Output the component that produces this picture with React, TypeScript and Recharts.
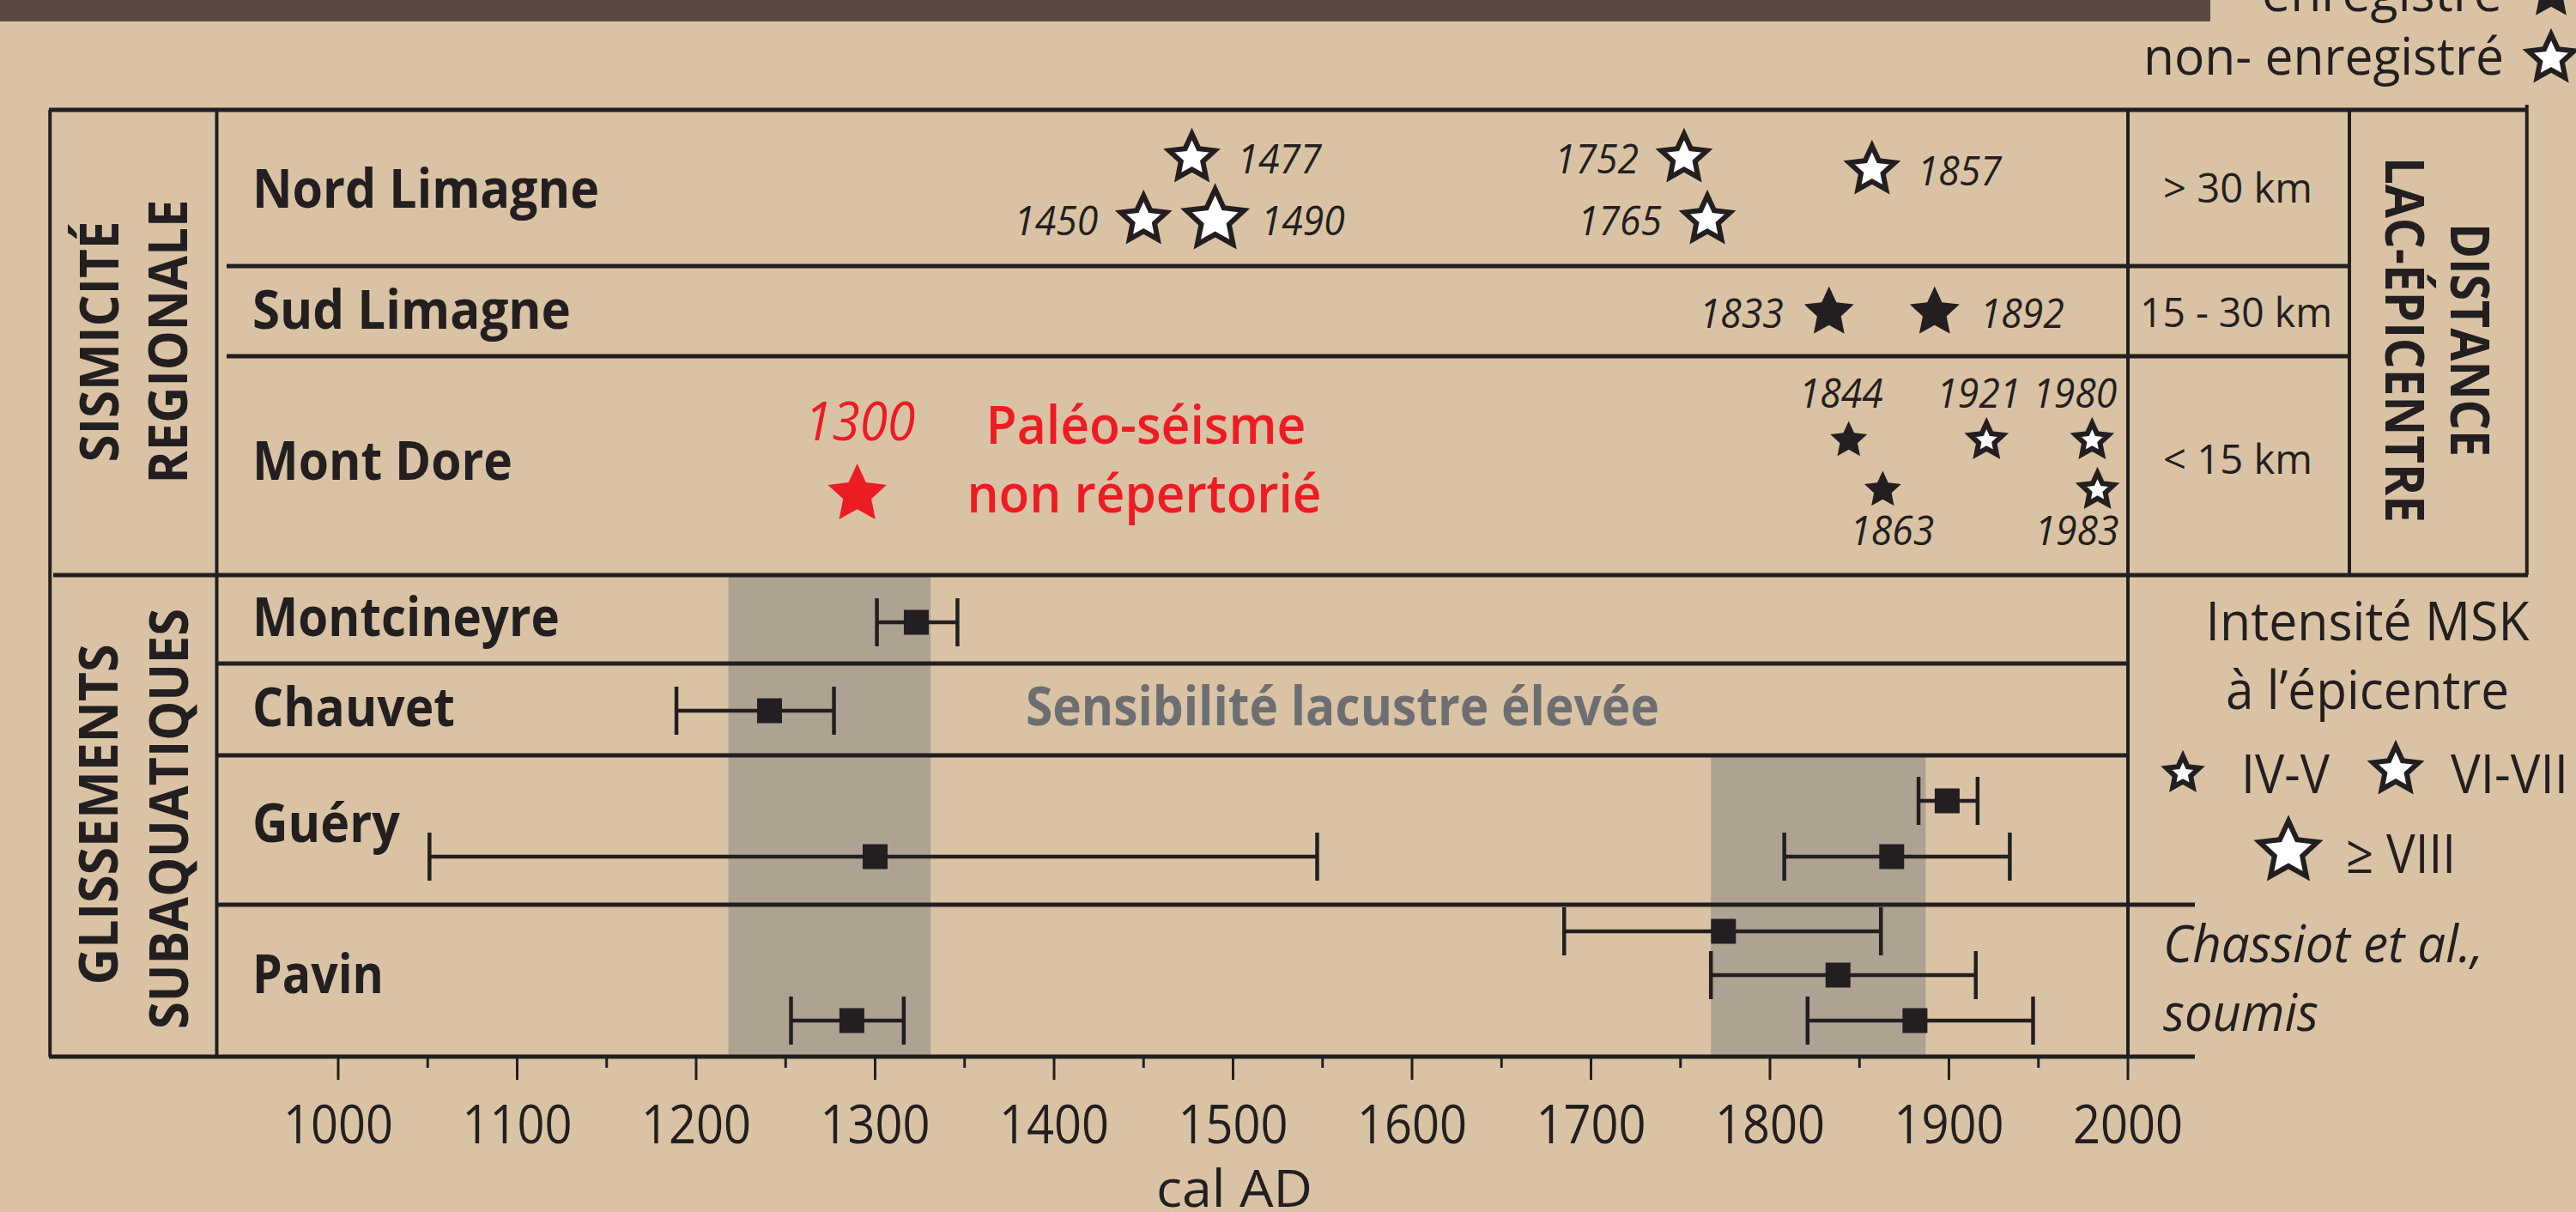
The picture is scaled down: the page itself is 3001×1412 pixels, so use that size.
import React from 'react';
import {
  ComposedChart,
  XAxis,
  YAxis,
  Scatter,
  ErrorBar,
  ReferenceLine,
  ReferenceArea,
  Customized,
} from 'recharts';

// ---------------- data ----------------
const tickYears = [
  1000, 1050, 1100, 1150, 1200, 1250, 1300, 1350, 1400, 1450, 1500,
  1550, 1600, 1650, 1700, 1750, 1800, 1850, 1900, 1950, 2000,
];

const seismicRegions = ['Nord Limagne', 'Sud Limagne', 'Mont Dore'];
const lakes = ['Montcineyre', 'Chauvet', 'Guéry', 'Pavin'];
const distanceClasses = ['> 30 km', '15 - 30 km', '< 15 km'];
const mskClasses = ['IV-V', 'VI-VII', 'VIII'];
const mskLabels = ['IV-V', 'VI-VII', '≥ VIII'];

const nordLimagneQuakes = [
  { year: 1450, msk: 'VI-VII', recorded: false },
  { year: 1477, msk: 'VI-VII', recorded: false },
  { year: 1490, msk: 'VIII', recorded: false },
  { year: 1752, msk: 'VI-VII', recorded: false },
  { year: 1765, msk: 'VI-VII', recorded: false },
  { year: 1857, msk: 'VI-VII', recorded: false },
];
const sudLimagneQuakes = [
  { year: 1833, msk: 'VI-VII', recorded: true },
  { year: 1892, msk: 'VI-VII', recorded: true },
];
const montDoreQuakes = [
  { year: 1844, msk: 'IV-V', recorded: true },
  { year: 1863, msk: 'IV-V', recorded: true },
  { year: 1921, msk: 'IV-V', recorded: false },
  { year: 1980, msk: 'IV-V', recorded: false },
  { year: 1983, msk: 'IV-V', recorded: false },
];
const paleoSeism = [{ year: 1290, label: '1300' }];

const montcineyreSlides = [{ age: 1323, min: 1301, max: 1346 }];
const chauvetSlides = [{ age: 1241, min: 1189, max: 1277 }];
const guerySlides = [
  { age: 1300, min: 1051, max: 1547 },
  { age: 1899, min: 1883, max: 1916 },
  { age: 1868, min: 1808, max: 1934 },
];
const pavinSlides = [
  { age: 1287, min: 1253, max: 1316 },
  { age: 1774, min: 1685, max: 1862 },
  { age: 1838, min: 1767, max: 1915 },
  { age: 1881, min: 1821, max: 1947 },
];

const sensitivePeriods = [
  { from: 1218, to: 1331, fromRow: 'Montcineyre' },
  { from: 1767, to: 1887, fromRow: 'Guéry' },
];

// ---------------- layout & style ----------------
const W = 3001;
const H = 1412;
const C_BG = '#DAC3A4';
const C_BAND = '#AEA293';
const C_INK = '#231F20';
const C_RED = '#ED1C24';
const C_GRAY = '#6D6E71';
const C_TITLE = '#594A41';
const FONT = "'Open Sans', 'Noto Sans', sans-serif";

const PLOT_L = 57;
const PLOT_R = 2945;
const PLOT_T = 128;
const PLOT_B = 1231;
const PX_1000 = 394;
const PX_PER_YEAR = 2.085;
const pxToYear = (px: number) => 1000 + (px - PX_1000) / PX_PER_YEAR;
const X_DOMAIN = [pxToYear(PLOT_L), pxToYear(PLOT_R)];
const Y_END = PLOT_B - PLOT_T;

const X_DIV = pxToYear(252.5);
const X_END = 2000;
const X_DIST = pxToYear(2737);
const X_EXT = pxToYear(2557);
const X_INNER = pxToYear(264);
const X_LEFT_IN = pxToYear(62);

const ROW_TOP: Record<string, number> = {
  'Nord Limagne': 0,
  'Sud Limagne': 182,
  'Mont Dore': 287,
  Montcineyre: 542,
  Chauvet: 645,
  'Guéry': 752,
  Pavin: 926,
};

const QUAKE_LANE: Record<number, number> = {
  1450: 128, 1477: 56, 1490: 128, 1752: 56, 1765: 128, 1857: 70,
  1833: 54, 1892: 54,
  1844: 98, 1863: 156, 1921: 98, 1980: 98, 1983: 156,
};
const PALEO_LANE = 161;
const SLIDE_LANE: Record<string, number[]> = {
  Montcineyre: [55],
  Chauvet: [55],
  'Guéry': [118, 53, 118],
  Pavin: [135, 31, 82, 135],
};
const LABEL_SIDE: Record<number, string> = {
  1450: 'left', 1477: 'right', 1490: 'right', 1752: 'left', 1765: 'left', 1857: 'right',
  1833: 'left', 1892: 'right',
  1844: 'above', 1863: 'below', 1921: 'above', 1980: 'aboveEnd', 1983: 'belowEnd',
};
const STAR_R: Record<string, number> = { 'IV-V': 22.5, 'VI-VII': 30.5, VIII: 38 };

// ---------------- helpers ----------------
const starPath = (cx: number, cy: number, R: number, ratio = 0.48) => {
  let d = '';
  for (let i = 0; i < 10; i++) {
    const r = i % 2 === 0 ? R : R * ratio;
    const a = -Math.PI / 2 + (i * Math.PI) / 5;
    d += (i === 0 ? 'M' : 'L') + (cx + r * Math.cos(a)).toFixed(2) + ',' + (cy + r * Math.sin(a)).toFixed(2);
  }
  return d + 'Z';
};

const Star = ({ cx, cy, msk, recorded }: { cx: number; cy: number; msk: string; recorded: boolean }) =>
  recorded ? (
    <path d={starPath(cx, cy, STAR_R[msk])} fill={C_INK} />
  ) : (
    <path
      d={starPath(cx, cy, STAR_R[msk] - 2.5)}
      fill="#FFFFFF"
      stroke={C_INK}
      strokeWidth={6}
      strokeLinejoin="miter"
    />
  );

type TP = {
  x: number;
  y: number;
  children: React.ReactNode;
  size: number;
  weight?: number;
  italic?: boolean;
  anchor?: 'start' | 'middle' | 'end';
  len?: number;
  fill?: string;
  rotate?: number;
};
const T = ({ x, y, children, size, weight = 400, italic = false, anchor = 'start', len, fill = C_INK, rotate = 0 }: TP) => (
  <text
    x={x}
    y={y}
    fontFamily={FONT}
    fontSize={size}
    fontWeight={weight}
    fontStyle={italic ? 'italic' : 'normal'}
    textAnchor={anchor}
    fill={fill}
    textLength={len}
    lengthAdjust="spacingAndGlyphs"
    transform={rotate ? `rotate(${rotate} ${x} ${y})` : undefined}
  >
    {children}
  </text>
);

const QuakeShape = (props: any) => {
  const { cx, cy, payload } = props;
  const side = LABEL_SIDE[payload.year];
  let lx = cx;
  let ly = cy + 18;
  let anchor: 'start' | 'middle' | 'end' = 'middle';
  if (side === 'right') { lx = cx + 53; anchor = 'start'; }
  if (side === 'left') { lx = cx - 53; anchor = 'end'; }
  if (side === 'above') { lx = cx - 9; ly = cy - 38; }
  if (side === 'below') { lx = cx + 11; ly = cy + 64; }
  if (side === 'aboveEnd') { lx = cx + 29; ly = cy - 38; anchor = 'end'; }
  if (side === 'belowEnd') { lx = cx + 25; ly = cy + 64; anchor = 'end'; }
  return (
    <g>
      <Star cx={cx} cy={cy} msk={payload.msk} recorded={payload.recorded} />
      <T x={lx} y={ly} size={48} italic anchor={anchor} len={98}>
        {String(payload.year)}
      </T>
    </g>
  );
};

const PaleoShape = (props: any) => {
  const { cx, cy, payload } = props;
  return (
    <g>
      <path d={starPath(cx, cy, 36)} fill={C_RED} />
      <T x={cx + 3} y={cy - 63} size={62} italic anchor="middle" len={129} fill={C_RED}>
        {payload.label}
      </T>
    </g>
  );
};

const SquareShape = (props: any) => {
  const { cx, cy } = props;
  return <rect x={cx - 14.5} y={cy - 14.5} width={29} height={29} fill={C_INK} />;
};

const XTick = (props: any) => {
  const { x, y, payload } = props;
  const v = payload.value as number;
  const major = v % 100 === 0;
  return (
    <g>
      <line x1={x} x2={x} y1={y} y2={y + (major ? 27 : 13)} stroke={C_INK} strokeWidth={3} />
      {major && (
        <T x={x} y={y + 101} size={63} anchor="middle" len={128}>
          {String(v)}
        </T>
      )}
    </g>
  );
};

// ---------------- derived series ----------------
const quakeData = [
  ...nordLimagneQuakes.map((q) => ({ ...q, region: 'Nord Limagne' })),
  ...sudLimagneQuakes.map((q) => ({ ...q, region: 'Sud Limagne' })),
  ...montDoreQuakes.map((q) => ({ ...q, region: 'Mont Dore' })),
].map((q) => ({ ...q, x: q.year, y: ROW_TOP[q.region] + QUAKE_LANE[q.year] }));

const paleoData = paleoSeism.map((p) => ({ ...p, x: p.year, y: ROW_TOP['Mont Dore'] + PALEO_LANE }));

const slideSets: Record<string, { age: number; min: number; max: number }[]> = {
  Montcineyre: montcineyreSlides,
  Chauvet: chauvetSlides,
  'Guéry': guerySlides,
  Pavin: pavinSlides,
};
const slideData = lakes.flatMap((lake) =>
  slideSets[lake].map((s, i) => ({
    ...s,
    lake,
    x: s.age,
    y: ROW_TOP[lake] + SLIDE_LANE[lake][i],
    err: [s.age - s.min, s.max - s.age],
  }))
);

// ---------------- table frame ----------------
const H_LINES: { x1: number; x2: number; y: number }[] = [
  { x1: X_DOMAIN[0], x2: X_DOMAIN[1], y: 0 },
  { x1: X_INNER, x2: X_DIST, y: ROW_TOP['Sud Limagne'] },
  { x1: X_INNER, x2: X_DIST, y: ROW_TOP['Mont Dore'] },
  { x1: X_LEFT_IN, x2: X_DOMAIN[1], y: ROW_TOP.Montcineyre },
  { x1: X_DIV, x2: X_END, y: ROW_TOP.Chauvet },
  { x1: X_DIV, x2: X_END, y: ROW_TOP['Guéry'] },
  { x1: X_DIV, x2: X_EXT, y: ROW_TOP.Pavin },
  { x1: X_DOMAIN[0], x2: X_EXT, y: Y_END },
];
const V_LINES: { x: number; y1: number; y2: number }[] = [
  { x: X_DOMAIN[0] + 0.6, y1: 0, y2: Y_END },
  { x: X_DIV, y1: 0, y2: Y_END },
  { x: X_END, y1: 0, y2: Y_END },
  { x: X_DIST, y1: 0, y2: ROW_TOP.Montcineyre },
  { x: X_DOMAIN[1] - 0.6, y1: -6, y2: ROW_TOP.Montcineyre },
];

// ---------------- static text layer ----------------
const rowLabelBaseline: Record<string, number> = {
  'Nord Limagne': 242,
  'Sud Limagne': 383,
  'Mont Dore': 559,
  Montcineyre: 741,
  Chauvet: 846,
  'Guéry': 981,
  Pavin: 1157,
};
const rowLabelLen: Record<string, number> = {
  'Nord Limagne': 404,
  'Sud Limagne': 371,
  'Mont Dore': 303,
  Montcineyre: 358,
  Chauvet: 236,
  'Guéry': 172,
  Pavin: 153,
};

const StaticLayer = () => (
  <g>
    {/* title bar remnant */}
    <rect x={0} y={0} width={2575} height={25} fill={C_TITLE} />
    {/* recorded / non-recorded legend */}
    <T x={2915} y={13} size={60} anchor="end" len={280}>enregistré</T>
    <Star cx={2972} cy={-7} msk="VI-VII" recorded />
    <T x={2917} y={87} size={60} anchor="end" len={420}>non- enregistré</T>
    <Star cx={2972} cy={68} msk="VI-VII" recorded={false} />

    {/* section titles */}
    <T x={138} y={398} size={63} weight={700} anchor="middle" len={281} rotate={-90}>SISMICITÉ</T>
    <T x={218} y={398} size={63} weight={700} anchor="middle" len={331} rotate={-90}>REGIONALE</T>
    <T x={137} y={949} size={63} weight={700} anchor="middle" len={397} rotate={-90}>GLISSEMENTS</T>
    <T x={219} y={954} size={63} weight={700} anchor="middle" len={490} rotate={-90}>SUBAQUATIQUES</T>
    <T x={2855} y={396} size={63} weight={700} anchor="middle" len={272} rotate={90}>DISTANCE</T>
    <T x={2779} y={396} size={63} weight={700} anchor="middle" len={426} rotate={90}>LAC-ÉPICENTRE</T>

    {/* row labels */}
    {[...seismicRegions, ...lakes].map((r) => (
      <T key={r} x={294} y={rowLabelBaseline[r]} size={62} weight={700} len={rowLabelLen[r]}>
        {r}
      </T>
    ))}

    {/* distance classes */}
    <T x={2607} y={236} size={48} anchor="middle" len={174}>{distanceClasses[0]}</T>
    <T x={2605} y={381} size={48} anchor="middle" len={224}>{distanceClasses[1]}</T>
    <T x={2607} y={552} size={48} anchor="middle" len={174}>{distanceClasses[2]}</T>

    {/* paleo-earthquake annotation */}
    <T x={1335} y={517} size={62} weight={600} anchor="middle" len={373} fill={C_RED}>Paléo-séisme</T>
    <T x={1333} y={597} size={62} weight={600} anchor="middle" len={413} fill={C_RED}>non répertorié</T>

    {/* sensitivity annotation */}
    <T x={1195} y={845} size={62} weight={700} len={738} fill={C_GRAY}>Sensibilité lacustre élevée</T>

    {/* MSK intensity legend */}
    <T x={2758} y={746} size={62} anchor="middle" len={377}>Intensité MSK</T>
    <T x={2758} y={826} size={62} anchor="middle" len={330}>à l’épicentre</T>
    <Star cx={2543} cy={901} msk={mskClasses[0]} recorded={false} />
    <T x={2611} y={924} size={62} len={103}>{mskLabels[0]}</T>
    <Star cx={2791} cy={897} msk={mskClasses[1]} recorded={false} />
    <T x={2855} y={924} size={62} len={137}>{mskLabels[1]}</T>
    <Star cx={2666} cy={992} msk={mskClasses[2]} recorded={false} />
    <T x={2733} y={1017} size={62} len={128}>{mskLabels[2]}</T>

    {/* source */}
    <T x={2520} y={1121} size={60} italic len={373}>Chassiot et al.,</T>
    <T x={2520} y={1201} size={60} italic len={181}>soumis</T>

    {/* axis title */}
    <T x={1438} y={1406} size={60} anchor="middle" len={182}>cal AD</T>
  </g>
);

export default function App() {
  return (
    <div style={{ position: 'fixed', left: 0, top: 0, width: W, height: H, background: C_BG, overflow: 'hidden' }}>
      <ComposedChart
        width={W}
        height={H}
        margin={{ top: PLOT_T, left: PLOT_L, right: W - PLOT_R, bottom: H - PLOT_B - 60 }}
      >
        <XAxis
          dataKey="x"
          type="number"
          domain={X_DOMAIN}
          allowDataOverflow
          ticks={tickYears}
          interval={0}
          tick={<XTick />}
          tickLine={false}
          axisLine={false}
          tickSize={0}
          tickMargin={0}
          height={60}
        />
        <YAxis dataKey="y" type="number" domain={[0, Y_END]} reversed hide allowDataOverflow />

        {sensitivePeriods.map((p) => (
          <ReferenceArea
            key={p.from}
            x1={p.from}
            x2={p.to}
            y1={ROW_TOP[p.fromRow]}
            y2={Y_END}
            fill={C_BAND}
            fillOpacity={1}
            stroke="none"
            ifOverflow="visible"
          />
        ))}

        {H_LINES.map((l, i) => (
          <ReferenceLine
            key={'h' + i}
            segment={[{ x: l.x1, y: l.y }, { x: l.x2, y: l.y }]}
            stroke={C_INK}
            strokeWidth={5}
            ifOverflow="visible"
          />
        ))}
        {V_LINES.map((l, i) => (
          <ReferenceLine
            key={'v' + i}
            segment={[{ x: l.x, y: l.y1 }, { x: l.x, y: l.y2 }]}
            stroke={C_INK}
            strokeWidth={4}
            ifOverflow="visible"
          />
        ))}

        <Scatter data={slideData} shape={<SquareShape />} isAnimationActive={false}>
          <ErrorBar
            dataKey="err"
            direction="x"
            width={28}
            stroke={C_INK}
            strokeWidth={4.5}
            isAnimationActive={false}
          />
        </Scatter>
        <Scatter data={quakeData} shape={<QuakeShape />} isAnimationActive={false} />
        <Scatter data={paleoData} shape={<PaleoShape />} isAnimationActive={false} />

        <Customized component={StaticLayer} />
      </ComposedChart>
    </div>
  );
}
